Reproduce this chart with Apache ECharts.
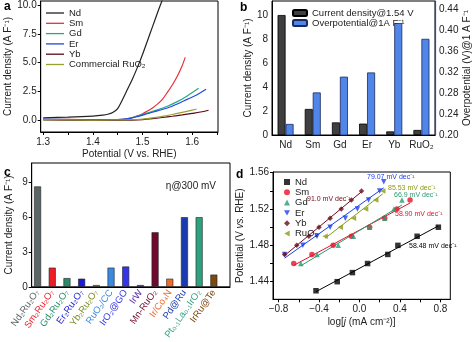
<!DOCTYPE html>
<html>
<head>
<meta charset="utf-8">
<script src="https://cdn.jsdelivr.net/npm/echarts@6/dist/echarts.min.js"></script>
<style>
  html, body { margin: 0; padding: 0; background: #fff; }
  #main { width: 474px; height: 342px; }
</style>
</head>
<body>
<div id="main"></div>
<script>
// ---- panel a: polarization curves ----
const aNames = ["Nd", "Sm", "Gd", "Er", "Yb", "Commercial RuO₂"];
const aNdV = [1.30, 1.35, 1.40, 1.42, 1.43, 1.44, 1.45, 1.46, 1.47, 1.48, 1.49, 1.50, 1.51, 1.52, 1.53, 1.536, 1.545];
const aNdJ = [0.20, 0.25, 0.34, 0.42, 0.50, 0.66, 1.00, 1.80, 2.70, 3.60, 4.60, 5.70, 6.90, 8.10, 9.30, 10.0, 11.0];
const aSmV = [1.30, 1.35, 1.40, 1.44, 1.46, 1.47, 1.48, 1.49, 1.50, 1.51, 1.52, 1.53, 1.54, 1.55, 1.56, 1.57, 1.58, 1.586];
const aSmJ = [0.08, 0.05, 0.03, 0.03, 0.06, 0.12, 0.22, 0.36, 0.55, 0.78, 1.05, 1.38, 1.80, 2.40, 3.05, 3.80, 4.75, 5.45];
const aGdV = [1.30, 1.40, 1.45, 1.47, 1.49, 1.51, 1.53, 1.55, 1.57, 1.59, 1.613];
const aGdJ = [0.08, 0.03, 0.04, 0.12, 0.35, 0.62, 0.88, 1.20, 1.60, 2.10, 2.76];
const aErV = [1.30, 1.40, 1.45, 1.47, 1.49, 1.51, 1.53, 1.55, 1.57, 1.59, 1.61, 1.628];
const aErJ = [0.08, 0.03, 0.03, 0.10, 0.30, 0.55, 0.80, 1.05, 1.40, 1.80, 2.20, 2.67];
const aYbV = [1.30, 1.40, 1.48, 1.50, 1.52, 1.54, 1.56, 1.58, 1.60, 1.62, 1.633];
const aYbJ = [0.02, -0.02, 0.00, 0.04, 0.12, 0.22, 0.33, 0.45, 0.58, 0.72, 0.85];
const aRuV = [1.30, 1.40, 1.48, 1.50, 1.52, 1.54, 1.56, 1.58, 1.60, 1.609];
const aRuJ = [0.04, 0.00, 0.03, 0.08, 0.18, 0.32, 0.48, 0.66, 0.86, 0.96];
const aColors = ["#222222", "#e8303a", "#2aa882", "#2248e0", "#5a0a14", "#9aa030"];

// ---- panel b: bars ----
const bCats = ["Nd", "Sm", "Gd", "Er", "Yb", "RuO₂"];
const bCurrent = [10.0, 2.17, 1.05, 0.95, 0.30, 0.42];
const bOverpot = [0.221, 0.281, 0.311, 0.319, 0.413, 0.383];

// ---- panel c: comparison ----
const cLabels = ["Nd₂Ru₂O₇", "Sm₂Ru₂O₇", "Gd₂Ru₂O₇", "Er₂Ru₂O₇", "Yb₂Ru₂O₇", "RuO₂/CC", "IrO₂@GO",
  "IrW", "Mn-RuO₂", "Ir/Co₄N", "Pd@Ru", "Pt₀.₁La₀.₁IrO₂", "IrRu@Te"];
const cValues = [8.65, 1.65, 0.75, 0.70, 0.15, 1.65, 1.75, 0.15, 4.70, 0.70, 6.00, 6.00, 1.05];
const cColors = ["#5b6565", "#ee1c25", "#2a8a6a", "#1a1ad8", "#7a8a20", "#3a8ae0", "#3434ea",
  "#5a2aa8", "#6e0a30", "#f06a2a", "#1a3ab0", "#30a07e", "#7a4a12"];

// ---- panel d: Tafel ----
const dNames = ["Nd", "Sm", "Gd", "Er", "Yb", "RuO₂"];
const dNdX = [-0.43, -0.22, -0.07, 0.08, 0.28, 0.38, 0.57, 0.78];
const dNdY = [1.43, 1.44, 1.45, 1.46, 1.47, 1.48, 1.49, 1.50];
const dSmX = [-0.65, -0.47, -0.26, -0.08, 0.10, 0.25, 0.37, 0.50];
const dSmY = [1.46, 1.47, 1.48, 1.49, 1.50, 1.51, 1.52, 1.53];
const dGdX = [-0.58, -0.42, -0.21, -0.06, 0.10, 0.25, 0.34, 0.42];
const dGdY = [1.46, 1.47, 1.48, 1.49, 1.50, 1.51, 1.52, 1.53];
const dErX = [-0.74, -0.56, -0.42, -0.29, -0.14, -0.02, 0.09, 0.20, 0.24];
const dErY = [1.47, 1.48, 1.49, 1.50, 1.51, 1.52, 1.53, 1.54, 1.55];
const dYbX = [-0.74, -0.62, -0.50, -0.40, -0.29, -0.18, -0.08, 0.02];
const dYbY = [1.47, 1.48, 1.49, 1.50, 1.51, 1.52, 1.53, 1.54];
const dRuX = [-0.34, -0.19, -0.06, 0.06, 0.16, 0.23];
const dRuY = [1.49, 1.50, 1.51, 1.52, 1.53, 1.54];
const dSlopes = ["58.48 mV dec⁻¹", "58.90 mV dec⁻¹", "66.9 mV dec⁻¹", "79.07 mV dec⁻¹", "91.0 mV dec⁻¹", "85.53 mV dec⁻¹"];
const dColors = ["#000000", "#e8102a", "#2a9a70", "#1a3ef0", "#6a0a1a", "#8a9a10"];
const dSymbols = ["rect", "circle", "triangle", "path://M0,0L10,0L5,9Z", "diamond", "path://M9,0L9,10L0,5Z"];

const FONT = "Liberation Sans, Arial, sans-serif";
const zip = (xs, ys) => xs.map((x, i) => [x, ys[i]]);

// straight least-squares line through a Tafel series
function fit(xs, ys) {
  const n = xs.length;
  const mx = xs.reduce((s, v) => s + v, 0) / n;
  const my = ys.reduce((s, v) => s + v, 0) / n;
  let sxy = 0, sxx = 0;
  for (let i = 0; i < n; i++) { sxy += (xs[i] - mx) * (ys[i] - my); sxx += (xs[i] - mx) ** 2; }
  const k = sxy / sxx, b = my - k * mx;
  const x0 = Math.min(...xs), x1 = Math.max(...xs);
  return [[x0, k * x0 + b], [x1, k * x1 + b]];
}

const axLine = { show: true, onZero: false, lineStyle: { color: "#000", width: 1 } };
const axLabel = { color: "#222", fontSize: 10, fontFamily: FONT };
const nameStyle = { color: "#222", fontSize: 10, fontFamily: FONT };
const legText = { fontSize: 9.5, color: "#222", fontFamily: FONT, lineHeight: 10 };

const chart = echarts.init(document.getElementById("main"));

const aV = [aNdV, aSmV, aGdV, aErV, aYbV, aRuV];
const aJ = [aNdJ, aSmJ, aGdJ, aErJ, aYbJ, aRuJ];
const dX = [dNdX, dSmX, dGdX, dErX, dYbX, dRuX];
const dY = [dNdY, dSmY, dGdY, dErY, dYbY, dRuY];

const series = [];
aNames.forEach((n, i) => {
  series.push({
    name: "a|" + n, type: "line", xAxisIndex: 0, yAxisIndex: 0,
    data: zip(aV[i], aJ[i]), smooth: 0.3, symbol: "none",
    lineStyle: { color: aColors[i], width: 1.2 }, itemStyle: { color: aColors[i] }
  });
});

series.push({
  name: "b|Current density@1.54 V", type: "bar", xAxisIndex: 1, yAxisIndex: 1,
  data: bCurrent, barWidth: 8, barGap: "0%",
  itemStyle: { color: "#3f3f3f", borderColor: "#000", borderWidth: 0.8 }
});
series.push({
  name: "b|Overpotential@1A F⁻¹", type: "bar", xAxisIndex: 1, yAxisIndex: 2,
  data: bOverpot, barWidth: 8, barGap: "0%",
  itemStyle: { color: "#4f86e8", borderColor: "#1a2a60", borderWidth: 0.8 }
});

series.push({
  name: "c", type: "bar", xAxisIndex: 2, yAxisIndex: 3, barWidth: 7,
  data: cValues.map((v, i) => ({
    value: [i, v],
    itemStyle: { color: cColors[i], borderColor: "#222", borderWidth: 0.6 }
  }))
});

dNames.forEach((n, i) => {
  series.push({
    name: "d|" + n, type: "scatter", xAxisIndex: 3, yAxisIndex: 4,
    data: zip(dX[i], dY[i]), symbol: dSymbols[i], symbolSize: 5.5,
    itemStyle: { color: dColors[i] }, z: 3
  });
  series.push({
    name: "dfit" + i, type: "line", xAxisIndex: 3, yAxisIndex: 4,
    data: fit(dX[i], dY[i]), symbol: "none",
    lineStyle: { color: dColors[i], width: 1 }, z: 2
  });
});

const slopePos = [[409, 246], [395, 214], [394, 195], [367, 177], [307, 199], [388, 188]];
const graphics = [
  { type: "text", left: 4, top: 1, style: { text: "a", font: "bold 12px " + FONT, fill: "#000" } },
  { type: "text", left: 240, top: 2, style: { text: "b", font: "bold 12px " + FONT, fill: "#000" } },
  { type: "text", left: 4, top: 167, style: { text: "c", font: "bold 12px " + FONT, fill: "#000" } },
  { type: "text", left: 236, top: 169, style: { text: "d", font: "bold 12px " + FONT, fill: "#000" } },
  { type: "text", right: 258, top: 181, style: { text: "η@300 mV", font: "10px " + FONT, fill: "#222", align: "right" } }
];
dSlopes.forEach((t, i) => {
  graphics.push({
    type: "text", x: slopePos[i][0], y: slopePos[i][1],
    style: { text: t, font: "7px " + FONT, fill: dColors[i], verticalAlign: "middle" }
  });
});

const cRich = {};
cColors.forEach((c, i) => { cRich["c" + i] = { color: c, fontSize: 9.5, fontFamily: FONT }; });

chart.setOption({
  animation: false,
  textStyle: { fontFamily: FONT },
  grid: [
    { left: 40.7, right: 256, top: 1, bottom: 210, show: true, borderColor: "#000", borderWidth: 1 },
    { left: 272, right: 39, top: 1, bottom: 207, show: true, borderColor: "#000", borderWidth: 1 },
    { left: 31.7, right: 244, top: 163, bottom: 46, show: true, borderColor: "#000", borderWidth: 1 },
    { left: 273, right: 23.7, top: 172, bottom: 42.7, show: true, borderColor: "#000", borderWidth: 1 }
  ],
  legend: [
    {
      data: aNames.map(n => "a|" + n), formatter: n => n.split("|")[1],
      orient: "vertical", left: 41, top: 3, icon: "rect", itemWidth: 18, itemHeight: 1.3, itemGap: 0.3,
      textStyle: legText, selectedMode: false
    },
    {
      data: ["b|Current density@1.54 V", "b|Overpotential@1A F⁻¹"], formatter: n => n.split("|")[1],
      orient: "vertical", left: 287, top: 3, itemWidth: 14, itemHeight: 6, itemGap: 0,
      textStyle: legText, selectedMode: false
    },
    {
      data: dNames.map(n => "d|" + n), formatter: n => n.split("|")[1],
      orient: "vertical", left: 279, top: 172, itemWidth: 6, itemHeight: 6, itemGap: 0.3,
      textStyle: legText, selectedMode: false
    }
  ],
  xAxis: [
    {
      type: "value", gridIndex: 0, min: 1.295, max: 1.652,
      name: "Potential (V vs. RHE)", nameLocation: "middle", nameGap: 17, nameTextStyle: nameStyle,
      axisLine: axLine, splitLine: { show: false },
      axisTick: { customValues: [1.3, 1.35, 1.4, 1.45, 1.5, 1.55, 1.6, 1.65], length: 3, lineStyle: { color: "#000" } },
      axisLabel: Object.assign({ customValues: [1.3, 1.4, 1.5, 1.6], formatter: v => v.toFixed(1), margin: 5 }, axLabel)
    },
    {
      type: "category", gridIndex: 1, data: bCats,
      axisLine: axLine, axisTick: { show: false },
      axisLabel: Object.assign({ margin: 5, interval: 0 }, axLabel)
    },
    {
      type: "value", gridIndex: 2, min: -0.4, max: 13.1,
      axisLine: axLine, splitLine: { show: false }, axisTick: { show: false },
      axisLabel: {
        customValues: cLabels.map((_, i) => i), rotate: 55, margin: 4,
        formatter: v => "{c" + Math.round(v) + "|" + cLabels[Math.round(v)] + "}", rich: cRich
      }
    },
    {
      type: "value", gridIndex: 3, min: -0.855, max: 0.898,
      name: "log[{i|j} (mA cm⁻²)]", nameLocation: "middle", nameGap: 18,
      nameTextStyle: Object.assign({ rich: { i: { fontStyle: "italic", fontSize: 10, fontFamily: FONT, color: "#222" } } }, nameStyle),
      axisLine: axLine, splitLine: { show: false },
      axisTick: { customValues: [-0.8, -0.6, -0.4, -0.2, 0, 0.2, 0.4, 0.6, 0.8], length: 3, lineStyle: { color: "#000" } },
      axisLabel: Object.assign({ customValues: [-0.8, -0.4, 0, 0.4, 0.8], formatter: v => v.toFixed(1).replace("-", "−"), margin: 5 }, axLabel)
    }
  ],
  yAxis: [
    {
      type: "value", gridIndex: 0, min: -1.04, max: 10.35,
      name: "Current density (A F⁻¹)", nameLocation: "middle", nameGap: 26, nameTextStyle: nameStyle,
      axisLine: axLine, splitLine: { show: false },
      axisTick: { customValues: [0, 2.5, 5, 7.5, 10], length: 3, lineStyle: { color: "#000" } },
      axisLabel: Object.assign({ customValues: [0, 2.5, 5, 7.5, 10], formatter: v => v.toFixed(1), margin: 4 }, axLabel)
    },
    {
      type: "value", gridIndex: 1, min: 0, max: 11.17,
      name: "Current density (A F⁻¹)", nameLocation: "middle", nameGap: 17, nameTextStyle: nameStyle,
      axisLine: axLine, splitLine: { show: false },
      axisTick: { customValues: [0, 2, 4, 6, 8, 10], length: 3, lineStyle: { color: "#000" } },
      axisLabel: Object.assign({ customValues: [0, 2, 4, 6, 8, 10], margin: 4 }, axLabel)
    },
    {
      type: "value", gridIndex: 1, position: "right", min: 0.2, max: 0.455,
      name: "Overpotential (V)@1 A F⁻¹", nameLocation: "middle", nameGap: 27, nameRotate: 90, nameTextStyle: nameStyle,
      axisLine: { show: true, onZero: false, lineStyle: { color: "#3040c0", width: 1.2 } }, splitLine: { show: false },
      axisTick: { customValues: [0.2, 0.22, 0.24, 0.26, 0.28, 0.3, 0.32, 0.34, 0.36, 0.38, 0.4, 0.42, 0.44], length: 3, lineStyle: { color: "#3040c0" } },
      axisLabel: Object.assign({ customValues: [0.2, 0.24, 0.28, 0.32, 0.36, 0.4, 0.44], formatter: v => v.toFixed(2), margin: 4 }, axLabel)
    },
    {
      type: "value", gridIndex: 2, min: 0, max: 10.67,
      name: "Current density (A F⁻¹)", nameLocation: "middle", nameGap: 17, nameTextStyle: nameStyle,
      axisLine: axLine, splitLine: { show: false },
      axisTick: { customValues: [0, 3, 6, 9], length: 3, lineStyle: { color: "#000" } },
      axisLabel: Object.assign({ customValues: [0, 3, 6, 9], margin: 4 }, axLabel)
    },
    {
      type: "value", gridIndex: 3, min: 1.4206, max: 1.5608,
      name: "Potential (V {i|vs.} RHE)", nameLocation: "middle", nameGap: 28,
      nameTextStyle: Object.assign({ rich: { i: { fontStyle: "italic", fontSize: 10, fontFamily: FONT, color: "#222" } } }, nameStyle),
      axisLine: axLine, splitLine: { show: false },
      axisTick: { customValues: [1.44, 1.46, 1.48, 1.50, 1.52, 1.54, 1.56], length: 3, lineStyle: { color: "#000" } },
      axisLabel: Object.assign({ customValues: [1.44, 1.48, 1.52, 1.56], formatter: v => v.toFixed(2), margin: 4 }, axLabel)
    }
  ],
  graphic: graphics,
  series: series
});
</script>
</body>
</html>
